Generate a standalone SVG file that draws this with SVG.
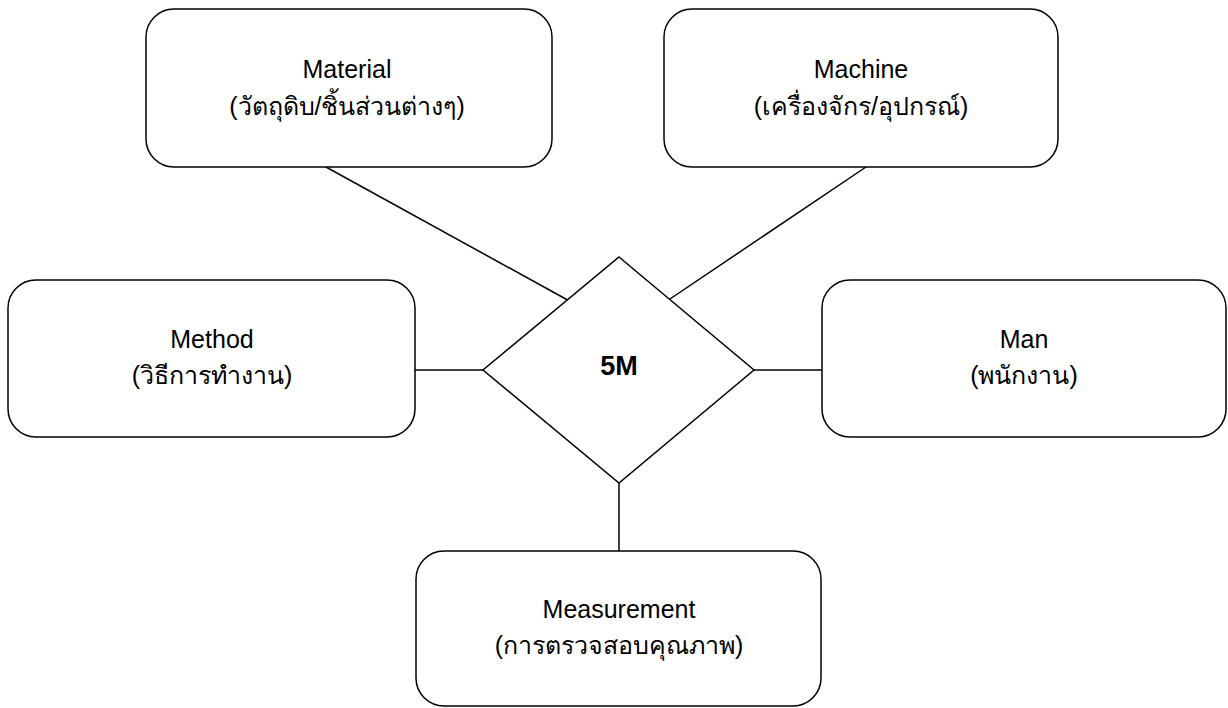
<svg xmlns="http://www.w3.org/2000/svg" width="1228" height="708" viewBox="0 0 1228 708">
  <style>
    .box { fill: #ffffff; stroke: #000000; stroke-width: 1.5; }
    .link { stroke: #000000; stroke-width: 1.5; fill: none; }
    .label { font-family: "Liberation Sans", Arial, "Noto Sans", "DejaVu Sans", sans-serif; font-size: 25px; fill: #000000; text-anchor: middle; }
    .hub { font-family: "Liberation Sans", Arial, sans-serif; font-size: 27px; font-weight: bold; fill: #000000; text-anchor: middle; }
  </style>
  <rect width="1228" height="708" fill="#ffffff"/>

  <!-- connectors -->
  <g id="connectors">
    <line class="link" x1="326" y1="167" x2="573" y2="303"/>
    <line class="link" x1="866" y1="167" x2="664" y2="303"/>
    <line class="link" x1="415" y1="370" x2="483" y2="370"/>
    <line class="link" x1="754" y1="370" x2="822" y2="370"/>
    <line class="link" x1="619" y1="483" x2="619" y2="551"/>
  </g>

  <!-- central diamond -->
  <g id="hub">
    <polygon class="box" points="619,257 754,370 619,483 483,370" fill="none"/>
    <text class="hub" x="619" y="375">5M</text>
  </g>

  <g id="material">
    <rect class="box" x="146" y="9" width="406" height="158" rx="28"/>
    <text class="label" x="347" y="78">Material</text>
    <text class="label" x="347" y="115">(วัตถุดิบ/ชิ้นส่วนต่างๆ)</text>
  </g>

  <g id="machine">
    <rect class="box" x="664" y="9" width="394" height="158" rx="28"/>
    <text class="label" x="861" y="78">Machine</text>
    <text class="label" x="861" y="115">(เครื่องจักร/อุปกรณ์)</text>
  </g>

  <g id="method">
    <rect class="box" x="8" y="280" width="407" height="157" rx="28"/>
    <text class="label" x="212" y="348">Method</text>
    <text class="label" x="212" y="384">(วิธีการทำงาน)</text>
  </g>

  <g id="man">
    <rect class="box" x="822" y="280" width="404" height="157" rx="28"/>
    <text class="label" x="1024" y="348">Man</text>
    <text class="label" x="1024" y="384">(พนักงาน)</text>
  </g>

  <g id="measurement">
    <rect class="box" x="416" y="551" width="405" height="155" rx="28"/>
    <text class="label" x="619" y="618">Measurement</text>
    <text class="label" x="619" y="654">(การตรวจสอบคุณภาพ)</text>
  </g>
</svg>
